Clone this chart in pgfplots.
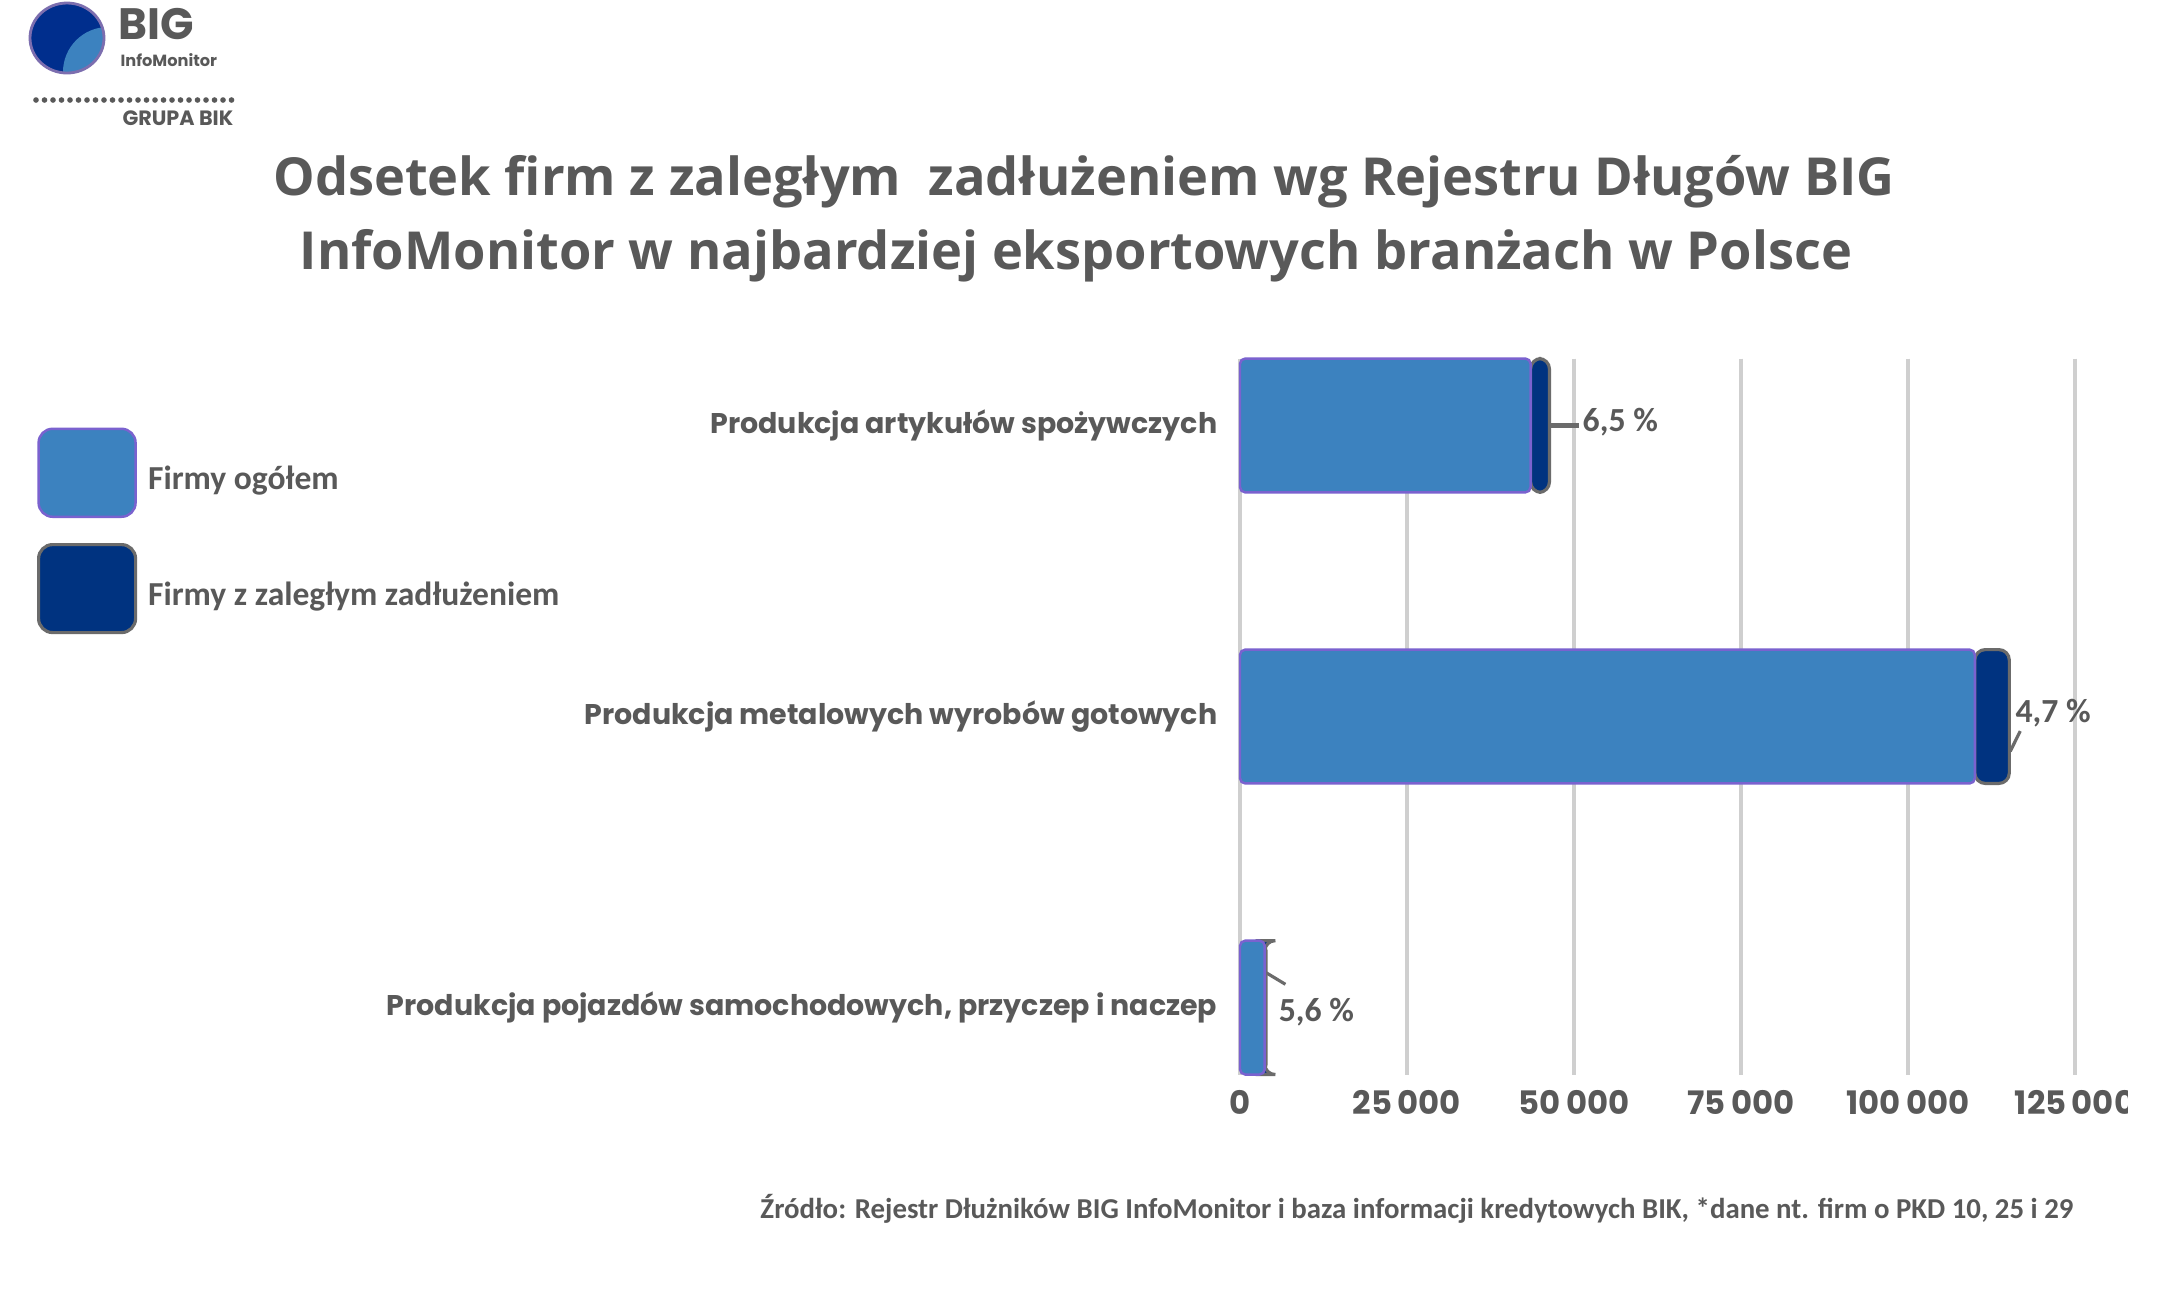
\documentclass[border=0pt]{standalone}
\usepackage{pgfplots}
\pgfplotsset{compat=1.18}
\usepackage{fontspec}
\setmainfont{Carlito}
\newfontfamily\titlefont{Open Sans}
\newfontfamily\popfont{Poppins}

\definecolor{lightbar}{HTML}{3C82BF}
\definecolor{lightedge}{HTML}{7A62CF}
\definecolor{navybar}{HTML}{003380}
\definecolor{edgegray}{HTML}{6B6B6B}
\definecolor{gridgray}{HTML}{CFCFCF}
\definecolor{txt}{HTML}{595959}

\begin{document}
\begin{tikzpicture}[x=1cm,y=1cm]
\useasboundingbox[fill=white] (0,0) rectangle (21.76,-12.92);

% logo
\begin{scope}
  \clip (0.67,-0.38) ellipse (0.37 and 0.35);
  \fill[navybar!90!blue] (0.67,-0.38) ellipse (0.37 and 0.35);
  \fill[lightbar] (1.08,-0.72) circle (0.45);
\end{scope}
\draw[lightedge!60!gray, line width=0.8pt] (0.67,-0.38) ellipse (0.37 and 0.35);
\node[anchor=west, inner sep=0pt, font=\popfont\bfseries\fontsize{12.5}{12.5}\selectfont, text=txt] at (1.18,-0.24) {BIG};
\node[anchor=west, inner sep=0pt, font=\popfont\bfseries\fontsize{4.6}{5}\selectfont, text=txt] at (1.20,-0.60) {InfoMonitor};
\draw[txt, line width=1.6pt, line cap=round, dash pattern=on 0pt off 0.085cm] (0.36,-1.00) -- (2.34,-1.00);
\node[anchor=east, inner sep=0pt, font=\popfont\bfseries\fontsize{5.9}{6}\selectfont, text=txt] at (2.34,-1.18) {GRUPA BIK};

% title
\node[font=\titlefont\bfseries\fontsize{14.9}{17}\selectfont, text=txt] at (10.84,-1.82) {Odsetek firm z zaległym\ \ zadłużeniem wg Rejestru Długów BIG};
\node[font=\titlefont\bfseries\fontsize{14.9}{17}\selectfont, text=txt] at (10.76,-2.56) {InfoMonitor w najbardziej eksportowych branżach w Polsce};

% source
\node[anchor=east, inner sep=0pt, font=\bfseries\fontsize{8.2}{9}\selectfont, text=txt] at (20.74,-12.09) {Źródło: Rejestr Dłużników BIG InfoMonitor i baza informacji kredytowych BIK, *dane nt. firm o PKD 10, 25 i 29};

\begin{scope}
\clip (0,0) rectangle (21.27,-12.92);
\begin{axis}[
  at={(12.40cm,-10.745cm)}, anchor=south west,
  scale only axis, width=8.35cm, height=7.16cm,
  xbar stacked, bar width=0.46,
  xmin=0, xmax=125000, ymin=-0.23, ymax=2.23, y dir=reverse,
  scaled x ticks=false,
  ytick={0,1,2},
  yticklabels={Produkcja artykułów spożywczych, Produkcja metalowych wyrobów gotowych, {Produkcja pojazdów samochodowych, przyczep i naczep}},
  yticklabel style={font=\popfont\bfseries\fontsize{8.1}{9}\selectfont, text=txt, inner sep=0pt, anchor=east, xshift=-0.22cm},
  xtick={0,25000,50000,75000,100000,125000},
  xticklabels={0, 25\,000, 50\,000, 75\,000, 100\,000, 125\,000},
  xticklabel style={font=\popfont\bfseries\fontsize{9.2}{10}\selectfont, text=txt, inner sep=0pt, anchor=center, yshift=-0.28cm},
  axis line style={draw=none}, major tick length=0pt,
  xmajorgrids, ymajorgrids=false,
  grid style={draw=gridgray, line width=1.2pt},
  legend style={at={(-1.4407,0.9036)}, anchor=north west, draw=none, fill=none,
    inner sep=0pt, outer sep=0pt, row sep=0.25cm, column sep=0.11cm,
    nodes={inner sep=0pt, anchor=west, yshift=-0.04cm},
    font=\bfseries\fontsize{9.55}{10}\selectfont, text=txt},
  legend cell align=left,
  legend image code/.code={\draw[#1, rounded corners=4pt] (0cm,-0.40cm) rectangle (0.97cm,0.48cm);},
  clip=false,
]
\addplot[fill=lightbar, draw=lightedge, line width=0.7pt, rounded corners=1.5pt]
  coordinates {(43500,0) (110000,1) (3700,2)};
\addlegendentry{Firmy ogółem}
\addplot[fill=navybar, draw=edgegray, line width=0.9pt, rounded corners=3pt]
  coordinates {(2830,0) (5170,1) (210,2)};
\addlegendentry{Firmy z zaległym zadłużeniem}

% data labels
\draw[edgegray, line width=1.2pt] (axis cs:46500,0) -- (axis cs:50800,0);
\node[anchor=west, inner sep=0pt, font=\bfseries\fontsize{9.6}{10}\selectfont, text=txt] at (axis cs:51200,-0.01) {6,5 \%};
\draw[edgegray, line width=0.9pt] (axis cs:115300,1.12) -- (axis cs:116800,1.05);
\node[anchor=west, inner sep=0pt, font=\bfseries\fontsize{9.6}{10}\selectfont, text=txt] at (axis cs:116000,0.99) {4,7 \%};
\draw[edgegray, line width=0.9pt] (axis cs:3900,1.88) -- (axis cs:6800,1.92);
\node[anchor=west, inner sep=0pt, font=\bfseries\fontsize{9.6}{10}\selectfont, text=txt] at (axis cs:5700,2.015) {5,6 \%};
\end{axis}
\end{scope}
\end{tikzpicture}
\end{document}
